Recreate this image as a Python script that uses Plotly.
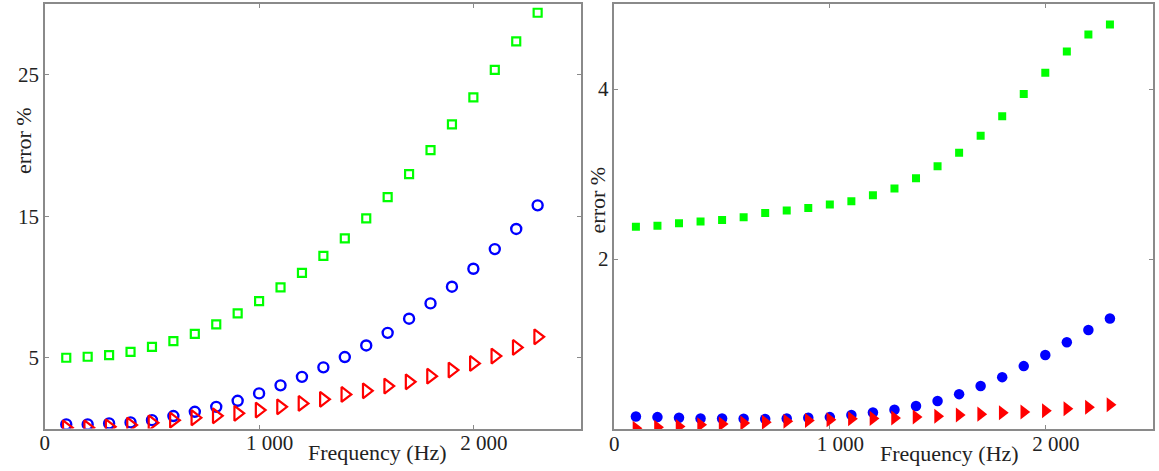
import plotly.graph_objects as go
from plotly.subplots import make_subplots

freq = [100, 200, 300, 400, 500, 600, 700, 800, 900, 1000, 1100, 1200,
        1300, 1400, 1500, 1600, 1700, 1800, 1900, 2000, 2100, 2200, 2300]

# Left panel (open markers)
left_green = [5.0, 5.07, 5.19, 5.42, 5.77, 6.18, 6.69, 7.36, 8.13, 9.0, 9.97, 11.0,
              12.2, 13.43, 14.85, 16.35, 17.98, 19.68, 21.49, 23.4, 25.35, 27.36, 29.38]
left_blue = [0.29, 0.29, 0.36, 0.43, 0.59, 0.88, 1.18, 1.53, 1.96, 2.48, 3.05, 3.65,
             4.32, 5.05, 5.87, 6.76, 7.76, 8.84, 10.02, 11.29, 12.68, 14.1, 15.77]
left_red = [0.05, 0.05, 0.12, 0.24, 0.40, 0.59, 0.76, 0.90, 1.07, 1.3, 1.53, 1.77,
            2.06, 2.41, 2.66, 3.0, 3.3, 3.7, 4.13, 4.6, 5.12, 5.73, 6.48]

# Right panel (filled markers)
right_green = [2.38, 2.39, 2.42, 2.44, 2.46, 2.49, 2.54, 2.57, 2.60, 2.64, 2.68, 2.75,
               2.83, 2.95, 3.09, 3.25, 3.45, 3.68, 3.94, 4.19, 4.44, 4.64, 4.76]
right_blue = [0.147, 0.14, 0.132, 0.124, 0.124, 0.12, 0.117, 0.124, 0.132, 0.14, 0.164, 0.195,
              0.226, 0.27, 0.33, 0.41, 0.506, 0.61, 0.74, 0.87, 1.02, 1.165, 1.30]
right_red = [0.01, 0.02, 0.03, 0.05, 0.06, 0.07, 0.08, 0.09, 0.10, 0.11, 0.12, 0.125,
             0.13, 0.14, 0.15, 0.165, 0.175, 0.19, 0.2, 0.215, 0.237, 0.257, 0.284]

x_tickvals = [0, 1000, 2000]
x_ticktext = ["0", "\u2007\u20071 000", "\u2007\u20072 000"]
left_yticks = [5, 15, 25]
right_yticks = [2, 4]

GREEN = "#00ff00"
BLUE = "#0000ff"
RED = "#ff0000"
FONT = "Liberation Serif"
TXT = "#222222"
AX = "#8a8a8a"

fig = make_subplots(rows=1, cols=2)

fig.add_trace(go.Scatter(x=freq, y=left_green, mode="markers",
                         marker=dict(symbol="square-open", size=8, color=GREEN,
                                     line=dict(width=2.2, color=GREEN))), row=1, col=1)
fig.add_trace(go.Scatter(x=freq, y=left_blue, mode="markers",
                         marker=dict(symbol="circle-open", size=10, color=BLUE,
                                     line=dict(width=2.4, color=BLUE))), row=1, col=1)
fig.add_trace(go.Scatter(x=freq, y=left_red, mode="markers",
                         marker=dict(symbol="triangle-right-open", size=13, color=RED,
                                     line=dict(width=2.2, color=RED))), row=1, col=1)

fig.add_trace(go.Scatter(x=freq, y=right_green, mode="markers",
                         marker=dict(symbol="square", size=8, color=GREEN,
                                     line=dict(width=0))), row=1, col=2)
fig.add_trace(go.Scatter(x=freq, y=right_blue, mode="markers",
                         marker=dict(symbol="circle", size=10.5, color=BLUE,
                                     line=dict(width=0))), row=1, col=2)
fig.add_trace(go.Scatter(x=freq, y=right_red, mode="markers",
                         marker=dict(symbol="triangle-right", size=13, color=RED,
                                     line=dict(width=0))), row=1, col=2)

axis_common = dict(showgrid=False, zeroline=False, showline=True, linecolor=AX,
                   linewidth=1.5, mirror="ticks", ticks="inside", ticklen=4,
                   tickcolor=AX, tickwidth=1.2,
                   tickfont=dict(family=FONT, size=21, color=TXT))

fig.update_xaxes(**axis_common, range=[0, 2500], tickvals=x_tickvals,
                 ticktext=x_ticktext, ticklabelstandoff=-5)
fig.update_xaxes(domain=[40 / 1159, 578 / 1159], row=1, col=1)
fig.update_xaxes(domain=[612 / 1159, 1153 / 1159], row=1, col=2)
fig.update_yaxes(**axis_common)
fig.update_yaxes(domain=[1 - 428.5 / 471, 1 - 4 / 471], range=[0, 30],
                 tickvals=left_yticks, row=1, col=1)
fig.update_yaxes(domain=[1 - 429 / 471, 1 - 4 / 471], range=[0, 5],
                 tickvals=right_yticks, row=1, col=2)

ann_font = dict(family=FONT, size=22, color=TXT)
fig.add_annotation(text="Frequency (Hz)", xref="paper", yref="paper",
                   x=302 / 1159, y=1 - 452 / 471, xanchor="left", yanchor="middle",
                   showarrow=False, font=ann_font)
fig.add_annotation(text="Frequency (Hz)", xref="paper", yref="paper",
                   x=877 / 1159, y=1 - 453 / 471, xanchor="left", yanchor="middle",
                   showarrow=False, font=ann_font)
fig.add_annotation(text="error %", xref="paper", yref="paper",
                   x=19 / 1159, y=1 - 140 / 471, xanchor="center", yanchor="middle",
                   textangle=-90, showarrow=False, font=ann_font)
fig.add_annotation(text="error %", xref="paper", yref="paper",
                   x=595 / 1159, y=1 - 200 / 471, xanchor="center", yanchor="middle",
                   textangle=-90, showarrow=False, font=ann_font)

fig.update_layout(width=1159, height=471, showlegend=False,
                  margin=dict(l=0, r=0, t=0, b=0),
                  paper_bgcolor="white", plot_bgcolor="white")

fig.write_html("out.html")
